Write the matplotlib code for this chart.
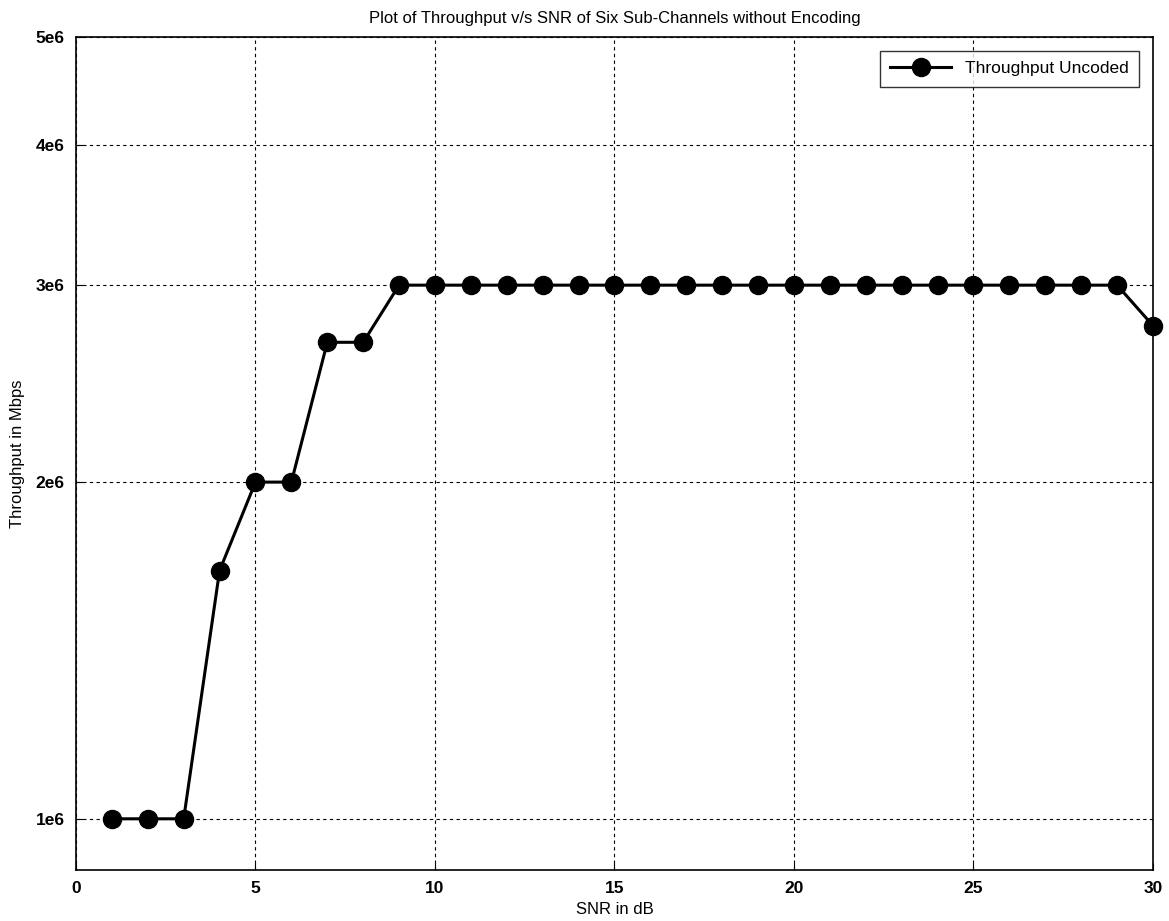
import matplotlib as mpl
import matplotlib.pyplot as plt
import numpy as np

params = {'font.family': ['Liberation Sans', 'DejaVu Sans'],
          'font.size': 12,
          'font.weight': 'bold'}
mpl.rcParams.update(params)

# Data
snr_db = np.arange(1, 31)
throughput = [1.0e6, 1.0e6, 1.0e6, 1.667e6, 2.0e6, 2.0e6, 2.667e6, 2.667e6] + \
             [3.0e6] * 21 + [2.76e6]
ytick_vals = [1e6, 2e6, 3e6, 4e6, 5e6]
ytick_labels = ['1e6', '2e6', '3e6', '4e6', '5e6']

fig = plt.figure(figsize=(11.69, 9.21), dpi=100, facecolor='w')
ax = fig.add_axes([0.065, 0.0554, 0.9213, 0.9044])

ax.plot(snr_db, throughput, color='k', marker='o', ls='-', lw=2.2, ms=13,
        label='Throughput Uncoded', clip_on=False, zorder=3)

ax.set_yscale('log')
ax.set_xlim(0, 30)
ax.set_ylim(0.9e6, 5e6)
ax.set_yticks(ytick_vals)
ax.set_yticklabels(ytick_labels)
ax.yaxis.set_minor_locator(mpl.ticker.NullLocator())
ax.set_xticks([0, 5, 10, 15, 20, 25, 30])

ax.grid(True, color='k', ls=(0, (3, 3)), lw=0.8)
ax.tick_params(direction='in', length=5, width=0.8, labelsize=12.5, pad=8)
for s in ax.spines.values():
    s.set_linewidth(1.2)

ax.set_xlabel('SNR in dB', fontsize=12, labelpad=4)
ax.set_ylabel('Throughput in Mbps', fontsize=12, labelpad=8)
ax.set_title('Plot of Throughput v/s SNR of Six Sub-Channels without Encoding',
             fontsize=12, pad=10)

leg = ax.legend(loc='upper right', fancybox=False, edgecolor='k',
                prop={'size': 12.5, 'weight': 'normal'},
                handlelength=3.5, borderpad=0.6, borderaxespad=0.8)
leg.get_frame().set_linewidth(1.0)

fig.savefig('out.png', dpi=100)
